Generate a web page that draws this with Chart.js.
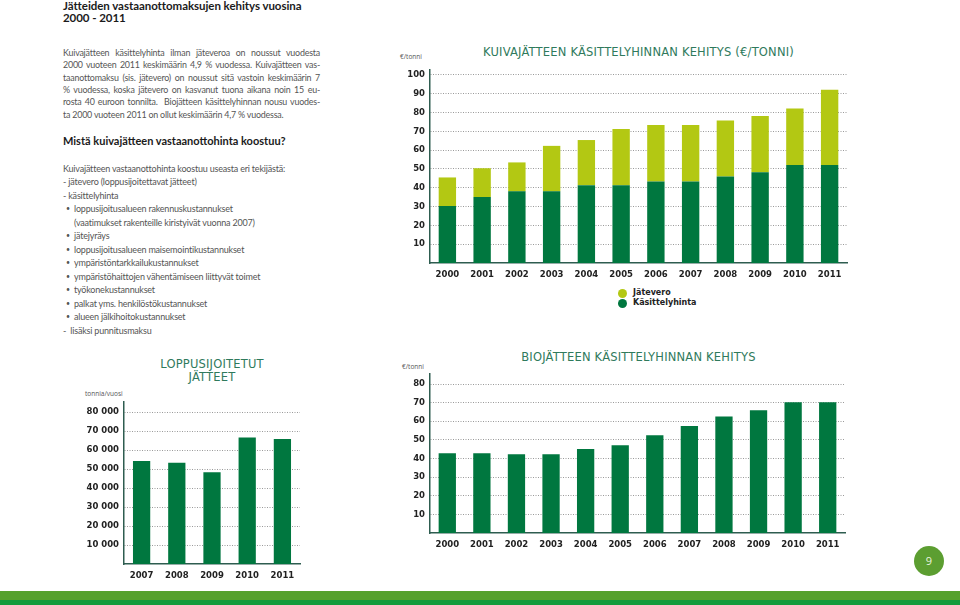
<!DOCTYPE html>
<html lang="fi">
<head>
<meta charset="utf-8">
<title>Jätteiden vastaanottomaksujen kehitys</title>
<script src="https://cdn.jsdelivr.net/npm/chart.js"></script>
<style>
  html, body { margin: 0; padding: 0; background: #fff; }
  #sivu { position: relative; width: 960px; height: 605px; overflow: hidden; font-family: Lato, "Open Sans", sans-serif; }
  .abs { position: absolute; white-space: nowrap; }
  .otsikko { left: 63px; top: 0px; font-weight: bold; font-size: 11.5px; line-height: 12px; color: #1b1b1b; letter-spacing: -0.05px; }
  .leipa { left: 63px; width: 257px; top: 47px; font-size: 8.9px; line-height: 12.33px; color: #555; letter-spacing: -0.2px; }
  .leipa div { text-align: justify; text-align-last: justify; white-space: nowrap; }
  .leipa div.viim { text-align-last: left; }
  .vali { left: 63px; top: 133.5px; font-weight: bold; font-size: 11px; line-height: 13px; color: #1b1b1b; }
  .lista { left: 63px; top: 161.5px; font-size: 9px; line-height: 13.5px; color: #555; letter-spacing: -0.2px; }
  .lista div { position: relative; height: 13.5px; }
  .lista .b { padding-left: 11px; }
  .lista .b::before { content: "•"; position: absolute; left: 3px; font-size: 7px; }
  .lista .j { padding-left: 11px; }
  .kaavio-otsikko { font-family: "DejaVu Sans", sans-serif; font-weight: normal; color: #2f7a5c; font-size: 11.5px; text-align: center; letter-spacing: 0.2px; }
  .yksikko { font-family: "Open Sans", sans-serif; font-size: 6.5px; color: #555; }
  canvas { position: absolute; }
  .selite { font-family: "DejaVu Sans", sans-serif; font-weight: bold; font-size: 8px; color: #222; }
  .pallo { position: absolute; width: 9px; height: 9px; border-radius: 50%; }
  #sivunro { position: absolute; left: 914px; top: 546px; width: 30px; height: 30px; border-radius: 50%; background: #5c9e31; color: #e8f3df; font-size: 11px; line-height: 30px; text-align: center; font-family: "Open Sans", sans-serif; }
  #nauha1 { position: absolute; left: 0; top: 591px; width: 960px; height: 9px; background: #55a12d; }
  #nauha2 { position: absolute; left: 0; top: 600px; width: 960px; height: 5px; background: #139b3c; }
</style>
</head>
<body>
<div id="sivu">
  <div class="abs otsikko">Jätteiden vastaanottomaksujen kehitys vuosina<br>2000 - 2011</div>

  <div class="abs leipa">
    <div>Kuivajätteen käsittelyhinta ilman jäteveroa on noussut vuodesta</div>
    <div>2000 vuoteen 2011 keskimäärin 4,9 % vuodessa. Kuivajätteen vas-</div>
    <div>taanottomaksu (sis. jätevero) on noussut sitä vastoin keskimäärin 7</div>
    <div>% vuodessa, koska jätevero on kasvanut tuona aikana noin 15 eu-</div>
    <div>rosta 40 euroon tonnilta.&nbsp; Biojätteen käsittelyhinnan nousu vuodes-</div>
    <div class="viim">ta 2000 vuoteen 2011 on ollut keskimäärin 4,7 % vuodessa.</div>
  </div>

  <div class="abs vali">Mistä kuivajätteen vastaanottohinta koostuu?</div>

  <div class="abs lista">
    <div>Kuivajätteen vastaanottohinta koostuu useasta eri tekijästä:</div>
    <div>- jätevero (loppusijoitettavat jätteet)</div>
    <div>- käsittelyhinta</div>
    <div class="b">loppusijoitusalueen rakennuskustannukset</div>
    <div class="j">(vaatimukset rakenteille kiristyivät vuonna 2007)</div>
    <div class="b">jätejyräys</div>
    <div class="b">loppusijoitusalueen maisemointikustannukset</div>
    <div class="b">ympäristöntarkkailukustannukset</div>
    <div class="b">ympäristöhaittojen vähentämiseen liittyvät toimet</div>
    <div class="b">työkonekustannukset</div>
    <div class="b">palkat yms. henkilöstökustannukset</div>
    <div class="b">alueen jälkihoitokustannukset</div>
    <div>-&nbsp; lisäksi punnitusmaksu</div>
  </div>

  <!-- kuivajäte -->
  <div class="abs kaavio-otsikko" style="left:430px; width:417px; top:45px;">KUIVAJÄTTEEN KÄSITTELYHINNAN KEHITYS (€/TONNI)</div>
  <div class="abs yksikko" style="left:400px; top:52px;">€/tonni</div>
  <canvas id="kuiva" width="455" height="223" style="left:395px; top:60px;"></canvas>
  <div class="pallo" style="left:618px; top:289px; background:#b3c813;"></div>
  <div class="pallo" style="left:618px; top:299px; background:#00773f;"></div>
  <div class="abs selite" style="left:633px; top:288px;">Jätevero</div>
  <div class="abs selite" style="left:633px; top:298px;">Käsittelyhinta</div>

  <!-- loppusijoitetut -->
  <div class="abs kaavio-otsikko" style="left:142px; width:140px; top:358px; line-height:13px;">LOPPUSIJOITETUT<br>JÄTTEET</div>
  <div class="abs yksikko" style="left:85px; top:389px;">tonnia/vuosi</div>
  <canvas id="loppu" width="233" height="192" style="left:70px; top:392px;"></canvas>

  <!-- biojäte -->
  <div class="abs kaavio-otsikko" style="left:430px; width:417px; top:350px;">BIOJÄTTEEN KÄSITTELYHINNAN KEHITYS</div>
  <div class="abs yksikko" style="left:402px; top:362px;">€/tonni</div>
  <canvas id="bio" width="453" height="189" style="left:395px; top:364px;"></canvas>

  <div id="sivunro">9</div>
  <div id="nauha1"></div>
  <div id="nauha2"></div>
</div>

<script>
// kuivajätteen käsittelyhinta ja jätevero, €/tonni
const vuodet = ["2000", "2001", "2002", "2003", "2004", "2005", "2006", "2007", "2008", "2009", "2010", "2011"];
const kasittelyhinta = [30.3, 35.1, 38.1, 38.1, 41.4, 41.4, 43.4, 43.4, 46.0, 48.3, 52.1, 52.1];
const jatevero = [15.2, 15.3, 15.4, 24.2, 24.0, 29.9, 30.0, 30.0, 29.8, 29.9, 30.1, 40.1];
const kuivaTicks = [10, 20, 30, 40, 50, 60, 70, 80, 90, 100];

// loppusijoitetut jätteet, tonnia/vuosi
const loppuVuodet = ["2007", "2008", "2009", "2010", "2011"];
const loppusijoitetut = [54300, 53300, 48400, 66700, 65900];
const loppuTicks = [10000, 20000, 30000, 40000, 50000, 60000, 70000, 80000];

// biojätteen käsittelyhinta, €/tonni
const biohinta = [42.8, 42.8, 42.3, 42.3, 45.1, 47.1, 52.5, 57.5, 62.6, 65.9, 70.2, 70.2];
const bioTicks = [10, 20, 30, 40, 50, 60, 70, 80];

const tummaVihrea = "#00773f";
const vaaleaVihrea = "#b3c813";
const akseli = "#2e5d50";

function tuhannet(v) {
  return String(v).replace(/\B(?=(\d{3})+$)/g, " ");
}

function teeKaavio(id, labels, datasets, ticks, max, yLeveys, muoto) {
  return new Chart(document.getElementById(id), {
    type: "bar",
    data: { labels: labels, datasets: datasets },
    options: {
      responsive: false,
      animation: false,
      layout: { padding: { top: 5, right: 3, left: 0, bottom: 0 } },
      plugins: { legend: { display: false }, tooltip: { enabled: false } },
      scales: {
        x: {
          stacked: true,
          grid: { display: false, drawTicks: false },
          border: { display: true, color: akseli, width: 1.5 },
          ticks: {
            color: "#222",
            font: { family: "DejaVu Sans", weight: "bold", size: 8.5 },
            padding: 7,
            maxRotation: 0,
            autoSkip: false,
          },
          afterFit: (s) => { s.height = 20; },
        },
        y: {
          stacked: true,
          min: 0,
          max: max,
          grid: { color: "#9a9a9a", lineWidth: 1, drawTicks: false },
          border: { display: true, color: akseli, width: 1.5, dash: [1, 1.5] },
          ticks: {
            color: "#222",
            font: { family: "DejaVu Sans", weight: "bold", size: 8.5 },
            padding: 5,
            callback: (v) => muoto(v),
          },
          afterBuildTicks: (s) => { s.ticks = ticks.map((v) => ({ value: v })); },
          afterFit: (s) => { s.width = yLeveys; },
        },
      },
    },
  });
}

teeKaavio("kuiva", vuodet, [
  { label: "Käsittelyhinta", data: kasittelyhinta, backgroundColor: tummaVihrea, barPercentage: 0.5, categoryPercentage: 1 },
  { label: "Jätevero", data: jatevero, backgroundColor: vaaleaVihrea, barPercentage: 0.5, categoryPercentage: 1 },
], kuivaTicks, 102.6, 35, (v) => String(v));

teeKaavio("loppu", loppuVuodet, [
  { label: "Loppusijoitetut jätteet", data: loppusijoitetut, backgroundColor: tummaVihrea, barPercentage: 0.49, categoryPercentage: 1 },
], loppuTicks, 85300, 54, tuhannet);

teeKaavio("bio", vuodet, [
  { label: "Biojätteen käsittelyhinta", data: biohinta, backgroundColor: tummaVihrea, barPercentage: 0.5, categoryPercentage: 1 },
], bioTicks, 85.35, 35, (v) => String(v));
</script>
</body>
</html>
